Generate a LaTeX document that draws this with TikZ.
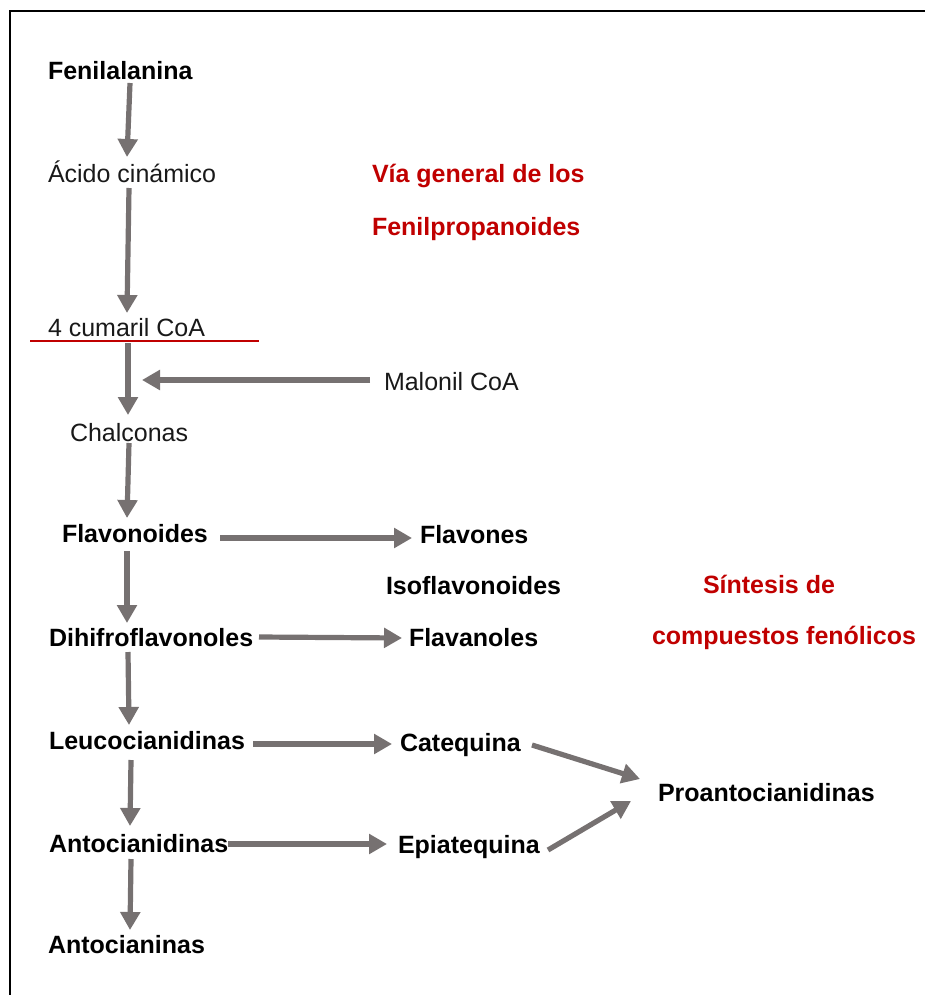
\documentclass[tikz,border=0pt]{standalone}
\usepackage{fontspec}
\setmainfont{Liberation Sans}
\usetikzlibrary{arrows.meta,calc}
\definecolor{arrgray}{RGB}{118,113,113}
\definecolor{darkred}{RGB}{192,0,0}
\begin{document}
\begin{tikzpicture}[x=0.75pt,y=-0.75pt,
  every node/.style={inner sep=0pt, outer sep=0pt, anchor=base west},
  bold/.style={font=\fontsize{18.75pt}{22pt}\selectfont\bfseries, text=black},
  plain/.style={font=\fontsize{18.75pt}{22pt}\selectfont, text=black!90},
  redt/.style={font=\fontsize{18.75pt}{22pt}\selectfont\bfseries, text=darkred},
  arr/.style={draw=arrgray, line width=3.9pt, -{Triangle[length=13.5pt,width=14.5pt]}},
  redline/.style={draw=darkred, line width=1.5pt},
  frame/.style={draw=black, line width=1.5pt}]
\useasboundingbox (0,0) rectangle (925,995);
\draw[frame] (10,995) -- (10,11.5) -- (925,11.5);

\node[bold]  (fen)   at (48,80)   {Fenilalanina};
\node[plain] (aci)   at (48,182)  {Ácido cinámico};
\node[redt]  (via)   at (372,182) {Vía general de los};
\node[redt]  (fenp)  at (372,235) {Fenilpropanoides};
\node[plain] (cum)   at (48,336)  {4 cumaril CoA};
\node[plain] (mal)   at (384,390) {Malonil CoA};
\node[plain] (cha)   at (70,441)  {Chalconas};
\node[bold]  (flav)  at (62,542)  {Flavonoides};
\node[bold]  (flavs) at (420,543) {Flavones};
\node[bold]  (iso)   at (386,594) {Isoflavonoides};
\node[redt]  (sin)   at (703,593) {Síntesis de};
\node[redt]  (comp)  at (652,644) {compuestos fenólicos};
\node[bold]  (dih)   at (49,646)  {Dihifroflavonoles};
\node[bold]  (flvn)  at (409,646) {Flavanoles};
\node[bold]  (leu)   at (49,749)  {Leucocianidinas};
\node[bold]  (cat)   at (400,751) {Catequina};
\node[bold]  (pro)   at (658,801) {Proantocianidinas};
\node[bold]  (ant)   at (49,852)  {Antocianidinas};
\node[bold]  (epi)   at (398,853) {Epiatequina};
\node[bold]  (anc)   at (48,953)  {Antocianinas};
\coordinate (join) at (142,380);

\draw[redline] ($(cum.base west)+(-18,4.5)$) -- ($(cum.base west)+(211,4.5)$);

% vertical chain
\draw[arr] ($(fen.base west)+(82,3)$) -- ($(aci.base west)+(79,-25)$);
\draw[arr] ($(aci.base west)+(81,6)$) -- ($(cum.base west)+(79,-23)$);
\draw[arr] ($(cum.base west)+(80,7)$) -- ($(cha.base west)+(58,-26)$);
\draw[arr] ($(cha.base west)+(59,2)$) -- ($(flav.base west)+(65,-24)$);
\draw[arr] ($(flav.base west)+(65,9)$) -- ($(dih.base west)+(78,-23)$);
\draw[arr] ($(dih.base west)+(79,6)$) -- ($(leu.base west)+(80,-24)$);
\draw[arr] ($(leu.base west)+(82,11)$) -- ($(ant.base west)+(81,-26)$);
\draw[arr] ($(ant.base west)+(82,7)$) -- ($(anc.base west)+(82,-23)$);

% side branches
\draw[arr] ($(mal.base west)+(-14,-10)$) -- (join);
\draw[arr] ($(flav.base west)+(158,-4)$) -- ($(flavs.base west)+(-8,-5)$);
\draw[arr] ($(dih.base west)+(210,-9)$) -- ($(flvn.base west)+(-7,-8)$);
\draw[arr] ($(leu.base west)+(204,-5)$) -- ($(cat.base west)+(-8,-7)$);
\draw[arr] ($(ant.base west)+(179,-8)$) -- ($(epi.base west)+(-11,-9)$);
\draw[arr] ($(cat.base west)+(132,-6)$) -- ($(pro.base west)+(-18,-22)$);
\draw[arr] ($(epi.base west)+(150,-3)$) -- ($(pro.base west)+(-27,0)$);
\end{tikzpicture}
\end{document}
